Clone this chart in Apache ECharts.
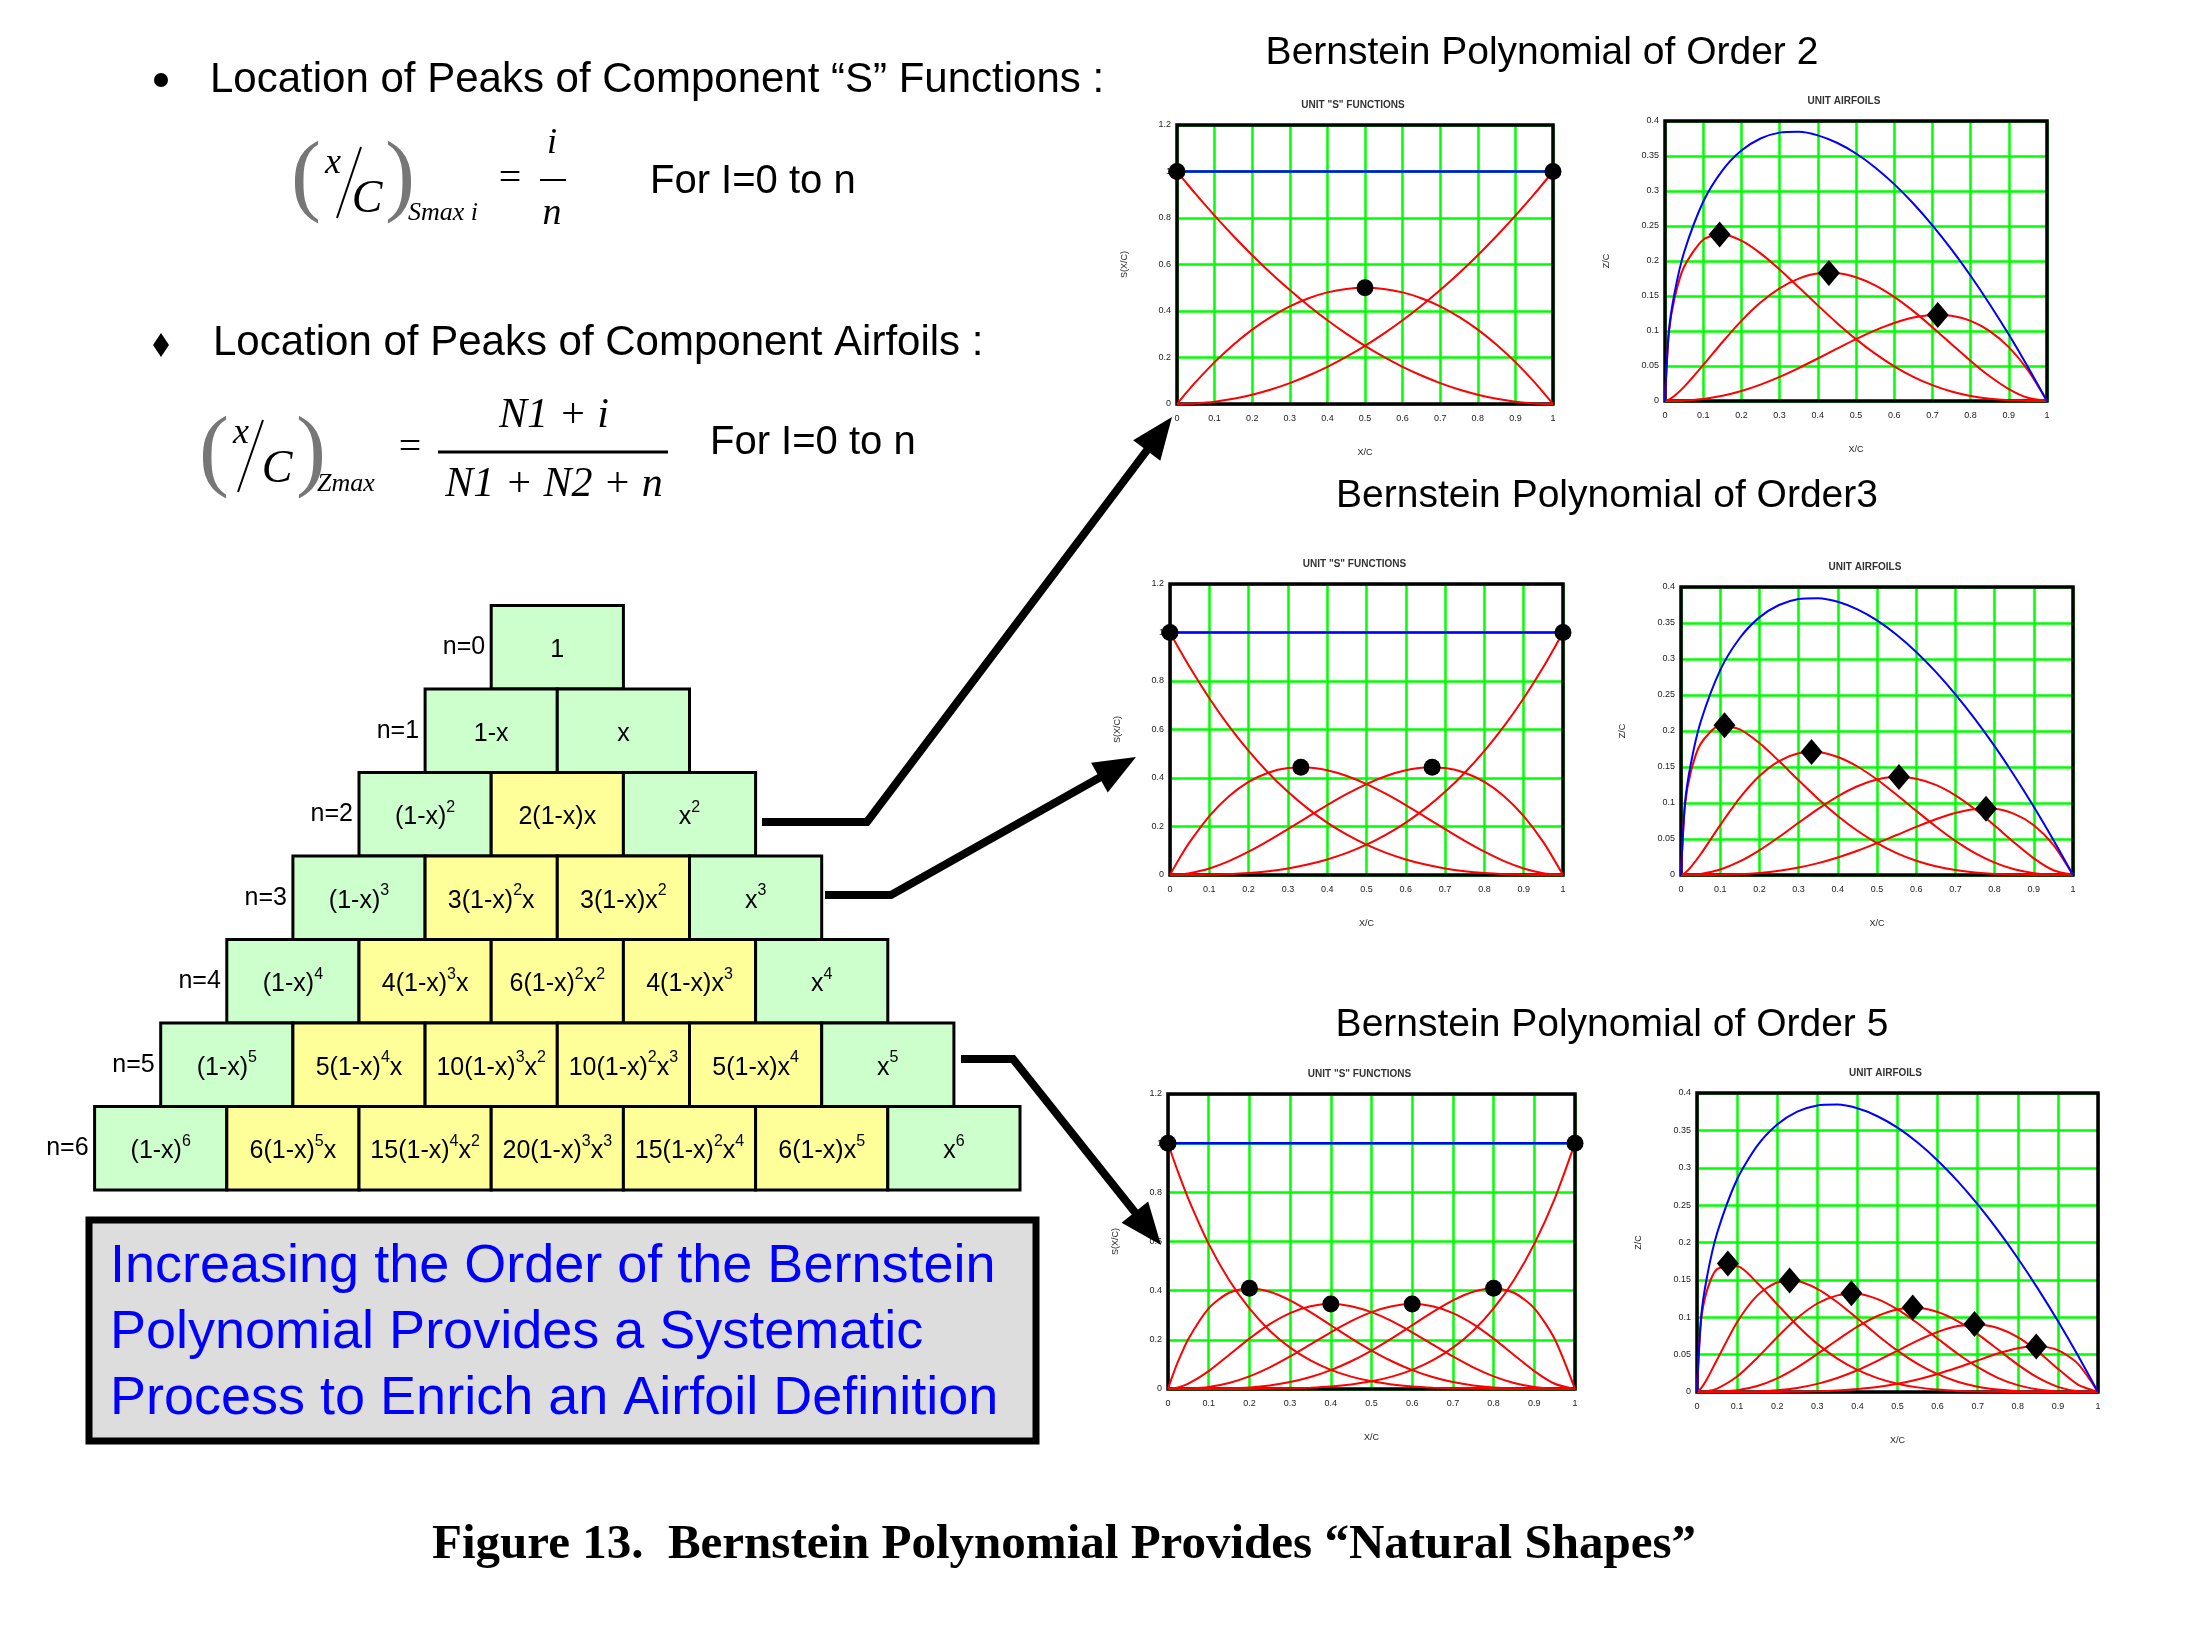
<!DOCTYPE html>
<html><head><meta charset="utf-8">
<script src="https://cdn.jsdelivr.net/npm/echarts@6/dist/echarts.min.js"></script>
<style>html,body{margin:0;padding:0;background:#fff}#c{width:2193px;height:1632px}</style>
</head><body><div id="c"></div>
<script>
// ---------- DATA ----------
const X = [0,0.01,0.025,0.05,0.1,0.15,0.2,0.25,0.3,0.35,0.4,0.45,0.5,0.55,0.6,0.65,0.7,0.75,0.8,0.85,0.9,0.95,1];
const sumX = [0, 1];
const sumY = [1, 1];

// Unit "S" functions, order 2
const s2_0 = [1,.9801,.9506,.9025,.81,.7225,.64,.5625,.49,.4225,.36,.3025,.25,.2025,.16,.1225,.09,.0625,.04,.0225,.01,.0025,0];
const s2_1 = [0,.0198,.0488,.095,.18,.255,.32,.375,.42,.455,.48,.495,.5,.495,.48,.455,.42,.375,.32,.255,.18,.095,0];
const s2_2 = [0,.0001,.0006,.0025,.01,.0225,.04,.0625,.09,.1225,.16,.2025,.25,.3025,.36,.4225,.49,.5625,.64,.7225,.81,.9025,1];
// order 3
const s3_0 = [1,.9703,.9269,.8574,.729,.6141,.512,.4219,.343,.2746,.216,.1664,.125,.0911,.064,.0429,.027,.0156,.008,.0034,.001,.0001,0];
const s3_1 = [0,.0294,.0713,.1354,.243,.3251,.384,.4219,.441,.4436,.432,.4084,.375,.3341,.288,.2389,.189,.1406,.096,.0574,.027,.0071,0];
const s3_2 = [0,.0003,.0018,.0071,.027,.0574,.096,.1406,.189,.2389,.288,.3341,.375,.4084,.432,.4436,.441,.4219,.384,.3251,.243,.1354,0];
const s3_3 = [0,0,0,.0001,.001,.0034,.008,.0156,.027,.0429,.064,.0911,.125,.1664,.216,.2746,.343,.4219,.512,.6141,.729,.8574,1];
// order 5
const s5_0 = [1,.951,.8811,.7738,.5905,.4437,.3277,.2373,.1681,.116,.0778,.0503,.0313,.0185,.0102,.0053,.0024,.001,.0003,.0001,0,0,0];
const s5_1 = [0,.048,.113,.2036,.3281,.3915,.4096,.3955,.3602,.3124,.2592,.2059,.1563,.1128,.0768,.0488,.0284,.0146,.0064,.0022,.0005,0,0];
const s5_2 = [0,.001,.0058,.0214,.0729,.1382,.2048,.2637,.3087,.3364,.3456,.3369,.3125,.2757,.2304,.1811,.1323,.0879,.0512,.0244,.0081,.0011,0];
const s5_3 = [0,0,.0002,.0011,.0081,.0244,.0512,.0879,.1323,.1811,.2304,.2757,.3125,.3369,.3456,.3364,.3087,.2637,.2048,.1382,.0729,.0214,0];
const s5_4 = [0,0,0,0,.0005,.0022,.0064,.0146,.0284,.0488,.0768,.1128,.1563,.2059,.2592,.3124,.3602,.3955,.4096,.3915,.3281,.2036,0];
const s5_5 = [0,0,0,0,0,.0001,.0003,.001,.0024,.0053,.0102,.0185,.0313,.0503,.0778,.116,.1681,.2373,.3277,.4437,.5905,.7738,1];

// Unit airfoils: class curve (blue) and components (red)
const cls  = [0,.099,.1542,.2124,.2846,.3292,.3578,.375,.3834,.3845,.3795,.3689,.3536,.3337,.3098,.2822,.251,.2165,.1789,.1383,.0949,.0487,0];
const a2_0 = [0,.097,.1466,.1917,.2305,.2378,.229,.2109,.1879,.1625,.1366,.1116,.0884,.0676,.0496,.0346,.0226,.0135,.0072,.0031,.0009,.0001,0];
const a2_1 = [0,.002,.0075,.0202,.0512,.0839,.1145,.1406,.161,.1749,.1822,.1826,.1768,.1652,.1487,.1284,.1054,.0812,.0572,.0353,.0171,.0046,0];
const a2_2 = [0,0,.0001,.0005,.0028,.0074,.0143,.0234,.0345,.0471,.0607,.0747,.0884,.1009,.1115,.1192,.123,.1218,.1145,.0999,.0769,.044,0];
const a3_0 = [0,.0961,.1429,.1821,.2075,.2022,.1832,.1582,.1315,.1056,.082,.0614,.0442,.0304,.0198,.0121,.0068,.0034,.0014,.0005,.0001,0,0];
const a3_1 = [0,.0029,.011,.0288,.0692,.107,.1374,.1582,.1691,.1706,.1639,.1507,.1326,.1115,.0892,.0674,.0474,.0304,.0172,.0079,.0026,.0003,0];
const a3_2 = [0,0,.0003,.0015,.0077,.0189,.0343,.0527,.0725,.0919,.1093,.1233,.1326,.1363,.1338,.1252,.1107,.0913,.0687,.045,.0231,.0066,0];
const a3_3 = [0,0,0,0,.0003,.0011,.0029,.0059,.0104,.0165,.0243,.0336,.0442,.0555,.0669,.0775,.0861,.0913,.0916,.0849,.0692,.0418,0];
const a5_0 = [0,.0941,.1359,.1644,.1681,.1461,.1173,.089,.0644,.0446,.0295,.0186,.0111,.0062,.0032,.0015,.0006,.0002,.0001,0,0,0,0];
const a5_1 = [0,.0048,.0174,.0432,.0934,.1289,.1466,.1483,.1381,.1201,.0984,.076,.0553,.0376,.0238,.0138,.0071,.0032,.0011,.0003,0,0,0];
const a5_2 = [0,.0001,.0009,.0045,.0207,.0455,.0733,.0989,.1184,.1293,.1312,.1243,.1105,.092,.0714,.0511,.0332,.019,.0092,.0034,.0008,.0001,0];
const a5_3 = [0,0,0,.0002,.0023,.008,.0183,.033,.0507,.0696,.0874,.1017,.1105,.1124,.1071,.0949,.0775,.0571,.0366,.0191,.0069,.001,0];
const a5_4 = [0,0,0,0,.0001,.0007,.0023,.0055,.0109,.0188,.0291,.0416,.0553,.0687,.0803,.0882,.0904,.0856,.0733,.0541,.0311,.0099,0];
const a5_5 = [0,0,0,0,0,0,.0001,.0004,.0009,.002,.0039,.0068,.0111,.0168,.0241,.0327,.0422,.0514,.0586,.0614,.056,.0377,0];

// Peak locations (markers)
const peakS2 = [[0,1],[0.5,0.5],[1,1]];
const peakS3 = [[0,1],[0.333,0.444],[0.667,0.444],[1,1]];
const peakS5 = [[0,1],[0.2,0.4096],[0.4,0.3456],[0.6,0.3456],[0.8,0.4096],[1,1]];
const peakA2 = [[0.143,0.238],[0.429,0.183],[0.714,0.123]];
const peakA3 = [[0.111,0.208],[0.333,0.171],[0.556,0.136],[0.778,0.092]];
const peakA5 = [[0.077,0.172],[0.231,0.149],[0.385,0.132],[0.538,0.113],[0.692,0.091],[0.846,0.061]];

// Axis ranges / tick steps
const sAxis = {max: 1.2, step: 0.2};
const aAxis = {max: 0.4, step: 0.05};
const xAxisRange = {max: 1, step: 0.1};

// Text content
const chartTitles = ['Bernstein Polynomial of Order 2', 'Bernstein Polynomial of Order3', 'Bernstein Polynomial of Order 5'];
const subS = 'UNIT "S" FUNCTIONS';
const subA = 'UNIT AIRFOILS';
const rowLabels = ['n=0','n=1','n=2','n=3','n=4','n=5','n=6'];
const pyramidRows = [
  ['1'],
  ['1-x','x'],
  ['(1-x){s|2}','2(1-x)x','x{s|2}'],
  ['(1-x){s|3}','3(1-x){s|2}x','3(1-x)x{s|2}','x{s|3}'],
  ['(1-x){s|4}','4(1-x){s|3}x','6(1-x){s|2}x{s|2}','4(1-x)x{s|3}','x{s|4}'],
  ['(1-x){s|5}','5(1-x){s|4}x','10(1-x){s|3}x{s|2}','10(1-x){s|2}x{s|3}','5(1-x)x{s|4}','x{s|5}'],
  ['(1-x){s|6}','6(1-x){s|5}x','15(1-x){s|4}x{s|2}','20(1-x){s|3}x{s|3}','15(1-x){s|2}x{s|4}','6(1-x)x{s|5}','x{s|6}']
];
const boxLines = ['Increasing the Order of the Bernstein','Polynomial Provides a Systematic','Process to Enrich an Airfoil Definition'];
const caption = 'Figure 13.  Bernstein Polynomial Provides \u201CNatural Shapes\u201D';

// ---------- LAYOUT ----------
const layout = [
  {left:1177, top:125, width:376, height:279},
  {left:1665, top:121, width:382, height:280},
  {left:1170, top:584, width:393, height:291},
  {left:1681, top:587, width:392, height:288},
  {left:1168, top:1094, width:407, height:295},
  {left:1697, top:1093, width:401, height:299}
];
const panels = [
  {kind:'S', curves:[s2_0,s2_1,s2_2], peaks:peakS2},
  {kind:'A', curves:[a2_0,a2_1,a2_2], peaks:peakA2},
  {kind:'S', curves:[s3_0,s3_1,s3_2,s3_3], peaks:peakS3},
  {kind:'A', curves:[a3_0,a3_1,a3_2,a3_3], peaks:peakA3},
  {kind:'S', curves:[s5_0,s5_1,s5_2,s5_3,s5_4,s5_5], peaks:peakS5},
  {kind:'A', curves:[a5_0,a5_1,a5_2,a5_3,a5_4,a5_5], peaks:peakA5}
];

const RED = '#FF0000', GREEN = '#00FF00', BLUE = '#0000FF';
const grids = [], xAxes = [], yAxes = [], series = [];
const pairs = (xs, ys) => xs.map((x, i) => [x, ys[i]]);

panels.forEach((p, i) => {
  const L = layout[i];
  grids.push({left:L.left, top:L.top, width:L.width, height:L.height, show:false});
  const ax = p.kind === 'S' ? sAxis : aAxis;
  xAxes.push({
    gridIndex:i, type:'value', min:0, max:xAxisRange.max, interval:xAxisRange.step,
    axisLine:{show:false}, axisTick:{show:false},
    axisLabel:{fontSize:9, color:'#222', margin:10, fontFamily:'Liberation Sans'},
    splitLine:{show:true, lineStyle:{color:GREEN, width:2.5}},
    name:'X/C', nameLocation:'middle', nameGap:44, nameTextStyle:{fontSize:9, color:'#222'}
  });
  yAxes.push({
    gridIndex:i, type:'value', min:0, max:ax.max, interval:ax.step,
    axisLine:{show:false}, axisTick:{show:false},
    axisLabel:{fontSize:9, color:'#222', margin:6, fontFamily:'Liberation Sans'},
    splitLine:{show:true, lineStyle:{color:GREEN, width:2.5}},
    name: p.kind === 'S' ? 'S(X/C)' : 'Z/C', nameLocation:'middle',
    nameGap: p.kind === 'S' ? 48 : 54, nameRotate:90, nameTextStyle:{fontSize:9, color:'#222'}
  });
  p.curves.forEach(c => series.push({
    type:'line', xAxisIndex:i, yAxisIndex:i, data:pairs(X, c), showSymbol:false,
    smooth:0.25, lineStyle:{color:RED, width:2}, z:3, silent:true
  }));
  if (p.kind === 'S') {
    series.push({type:'line', xAxisIndex:i, yAxisIndex:i, data:pairs(sumX, sumY), showSymbol:false,
      lineStyle:{color:BLUE, width:2.5}, z:4, silent:true});
  } else {
    series.push({type:'line', xAxisIndex:i, yAxisIndex:i, data:pairs(X, cls), showSymbol:false,
      smooth:0.25, lineStyle:{color:BLUE, width:2}, z:4, silent:true});
  }
  series.push({type:'scatter', xAxisIndex:i, yAxisIndex:i, data:p.peaks, clip:false,
    symbol: p.kind === 'S' ? 'circle' : 'diamond',
    symbolSize: p.kind === 'S' ? 17 : [22, 26],
    itemStyle:{color:'#000', opacity:1}, z:6, silent:true});
});

// ---------- GRAPHICS ----------
const g = [];
function txt(x, y, text, o) {
  const st = Object.assign({text:text, fill:'#000', fontFamily:'Liberation Sans', fontSize:20,
    align:'left', verticalAlign:'middle'}, o || {});
  st.textAlign = st.align; st.textVerticalAlign = st.verticalAlign;
  return {type:'text', x:x, y:y, z:10, style:st};
}
// chart frames
layout.forEach(L => g.push({type:'rect', z:1, shape:{x:L.left, y:L.top, width:L.width, height:L.height},
  style:{fill:null, stroke:'#000', lineWidth:3.5}}));
// chart titles
g.push(txt(1542, 53, chartTitles[0], {fontSize:39, align:'center'}));
g.push(txt(1607, 496, chartTitles[1], {fontSize:39, align:'center'}));
g.push(txt(1612, 1025, chartTitles[2], {fontSize:39, align:'center'}));
// small subtitles
layout.forEach((L, i) => g.push(txt(L.left + L.width/2 - 12, L.top - 20, panels[i].kind === 'S' ? subS : subA,
  {fontSize:10, fontWeight:'bold', align:'center', fill:'#333'})));

// bullets & headings
g.push({type:'circle', z:10, shape:{cx:161, cy:80, r:7}, style:{fill:'#000'}});
g.push({type:'polygon', z:10, shape:{points:[[161,333],[169,345],[161,357],[153,345]]}, style:{fill:'#000'}});
g.push(txt(210, 80, 'Location of Peaks of Component \u201CS\u201D Functions :', {fontSize:42}));
g.push(txt(213, 343, 'Location of Peaks of Component Airfoils :', {fontSize:42}));

// formula 1
const serifI = {fontFamily:'Liberation Serif', fontStyle:'italic'};
g.push(txt(306, 180, '(', {fontFamily:'Liberation Serif', fontSize:90, fill:'#777', align:'center'}));
g.push(txt(333, 164, 'x', Object.assign({fontSize:36, align:'center'}, serifI)));
g.push({type:'line', z:10, shape:{x1:337, y1:218, x2:361, y2:147}, style:{stroke:'#000', lineWidth:2}});
g.push(txt(367, 200, 'C', Object.assign({fontSize:46, align:'center'}, serifI)));
g.push(txt(400, 180, ')', {fontFamily:'Liberation Serif', fontSize:90, fill:'#777', align:'center'}));
g.push(txt(408, 213, 'Smax i', Object.assign({fontSize:26}, serifI)));
g.push(txt(510, 179, '=', {fontFamily:'Liberation Serif', fontSize:40, align:'center'}));
g.push(txt(552, 144, 'i', Object.assign({fontSize:36, align:'center'}, serifI)));
g.push({type:'line', z:10, shape:{x1:540, y1:180, x2:566, y2:180}, style:{stroke:'#000', lineWidth:2}});
g.push(txt(552, 214, 'n', Object.assign({fontSize:38, align:'center'}, serifI)));
g.push(txt(650, 182, 'For I=0 to n', {fontSize:40}));

// formula 2
g.push(txt(214, 455, '(', {fontFamily:'Liberation Serif', fontSize:90, fill:'#777', align:'center'}));
g.push(txt(241, 434, 'x', Object.assign({fontSize:36, align:'center'}, serifI)));
g.push({type:'line', z:10, shape:{x1:238, y1:492, x2:263, y2:420}, style:{stroke:'#000', lineWidth:2}});
g.push(txt(277, 470, 'C', Object.assign({fontSize:46, align:'center'}, serifI)));
g.push(txt(311, 455, ')', {fontFamily:'Liberation Serif', fontSize:90, fill:'#777', align:'center'}));
g.push(txt(317, 484, 'Zmax', Object.assign({fontSize:26}, serifI)));
g.push(txt(410, 448, '=', {fontFamily:'Liberation Serif', fontSize:40, align:'center'}));
g.push(txt(554, 416, 'N1 + i', Object.assign({fontSize:42, align:'center'}, serifI)));
g.push({type:'line', z:10, shape:{x1:438, y1:452, x2:668, y2:452}, style:{stroke:'#000', lineWidth:3}});
g.push(txt(554, 485, 'N1 + N2 + n', Object.assign({fontSize:42, align:'center'}, serifI)));
g.push(txt(710, 443, 'For I=0 to n', {fontSize:40}));

// pyramid
const cellW = 132.2, rowH = 83.5, pyrCX = 557.3, pyrTop = 605.6;
const rich = {s:{fontSize:16, fontFamily:'Liberation Sans', fill:'#000', padding:[0,0,20,0]}};
pyramidRows.forEach((row, k) => {
  const left = pyrCX - row.length * cellW / 2;
  const top = pyrTop + k * rowH;
  row.forEach((t, j) => {
    const green = (j === 0 || j === row.length - 1);
    g.push({type:'rect', z:5, shape:{x:left + j*cellW, y:top, width:cellW, height:rowH},
      style:{fill: green ? '#CCFFCC' : '#FFFF99', stroke:'#000', lineWidth:3}});
    g.push(Object.assign(txt(left + j*cellW + cellW/2, top + rowH/2 + 3, t,
      {fontSize:25, align:'center', rich:rich}), {z:6}));
  });
  g.push(txt(left - 6, top + rowH/2, rowLabels[k], {fontSize:25, align:'right'}));
});

// arrows
function arrow(pts) {
  const tip = pts[pts.length - 1], prev = pts[pts.length - 2];
  const dx = tip[0] - prev[0], dy = tip[1] - prev[1], len = Math.hypot(dx, dy);
  const ux = dx / len, uy = dy / len, hl = 42, hw = 17;
  const bx = tip[0] - ux * hl, by = tip[1] - uy * hl;
  const line = pts.slice(0, -1).concat([[bx + ux*4, by + uy*4]]);
  g.push({type:'polyline', z:8, shape:{points:line}, style:{stroke:'#000', lineWidth:8, fill:null, lineJoin:'miter'}});
  g.push({type:'polygon', z:8, shape:{points:[tip, [bx - uy*hw, by + ux*hw], [bx + uy*hw, by - ux*hw]]}, style:{fill:'#000'}});
}
arrow([[762,822],[867,822],[1172,417]]);
arrow([[825,895],[891,895],[1136,757]]);
arrow([[961,1059],[1013,1059],[1161,1245]]);

// text box
g.push({type:'rect', z:5, shape:{x:89, y:1220, width:947, height:221}, style:{fill:'#DDDDDD', stroke:'#000', lineWidth:7}});
boxLines.forEach((t, i) => g.push(txt(110, 1267 + i*66, t, {fontSize:54, fill:BLUE})));

// caption
g.push(txt(1064, 1545, caption, {fontFamily:'Liberation Serif', fontWeight:'bold', fontSize:49, align:'center'}));

const chart = echarts.init(document.getElementById('c'), null, {renderer:'canvas', width:2193, height:1632});
chart.setOption({
  animation:false,
  backgroundColor:'#fff',
  grid:grids, xAxis:xAxes, yAxis:yAxes, series:series,
  graphic:{elements:g}
});
</script>
</body></html>
